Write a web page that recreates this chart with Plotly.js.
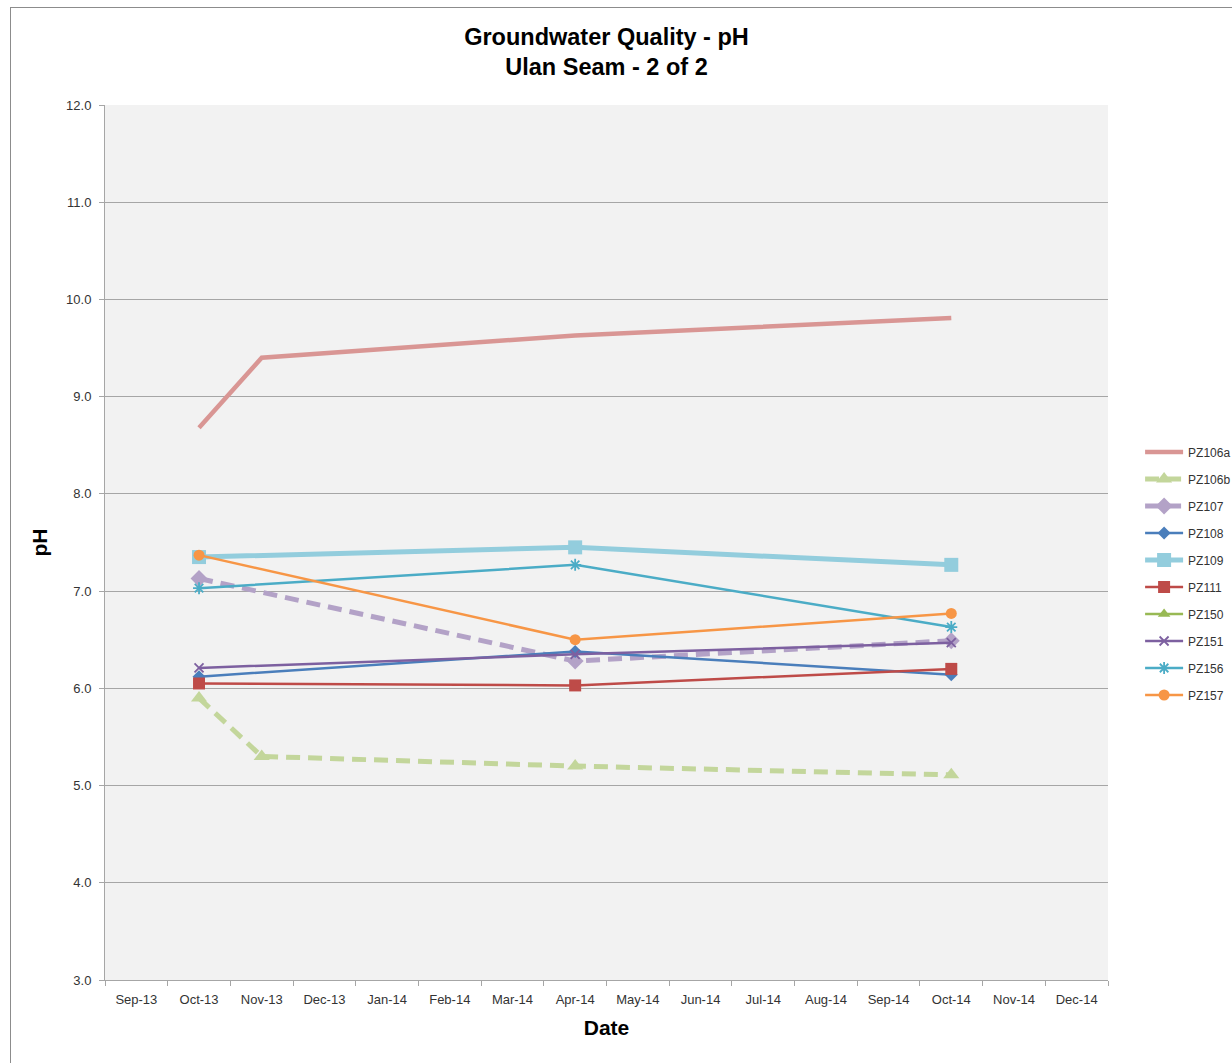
<!DOCTYPE html>
<html>
<head>
<meta charset="utf-8">
<script src="https://cdn.plot.ly/plotly-3.0.1.min.js"></script>
<style>
  html, body { margin: 0; padding: 0; background: #fff; overflow: hidden; }
  #frame { position: absolute; left: 10px; top: 7px; width: 1240px; height: 1080px; border: 1px solid #8c8c8c; box-sizing: border-box; pointer-events: none; z-index: 2; }
  #chart { position: absolute; left: 0; top: 0; width: 1232px; height: 1063px; }
</style>
</head>
<body>
<div id="chart"></div>
<div id="frame"></div>
<script>
// Category (month) labels on the x axis
const months = ["Sep-13","Oct-13","Nov-13","Dec-13","Jan-14","Feb-14","Mar-14","Apr-14","May-14","Jun-14","Jul-14","Aug-14","Sep-14","Oct-14","Nov-14","Dec-14"];

// Sampling dates
const dates4 = ["Oct-13","Nov-13","Apr-14","Oct-14"];
const dates3 = ["Oct-13","Apr-14","Oct-14"];

// pH values
const pz106a = [8.68, 9.40, 9.63, 9.81];
const pz106b = [5.90, 5.30, 5.20, 5.11];
const pz107  = [7.13, 6.28, 6.49];
const pz108  = [6.12, 6.38, 6.14];
const pz109  = [7.35, 7.45, 7.27];
const pz111  = [6.05, 6.03, 6.20];
const pz150  = [null, null, null];
const pz151  = [6.21, 6.35, 6.47];
const pz156  = [7.03, 7.27, 6.63];
const pz157  = [7.37, 6.50, 6.77];

function tr(name, x, y, color, width, dash, symbol, size, mline) {
  const t = {
    type: "scatter", name: name, x: x, y: y, legendgroup: name,
    mode: symbol ? "lines+markers" : "lines",
    line: { color: color, width: width, dash: dash || "solid" },
    connectgaps: true
  };
  if (symbol) {
    t.marker = { symbol: symbol, size: size, color: color, line: { color: color, width: mline || 0 } };
  }
  return t;
}

const traces = [
  tr("PZ106a", dates4, pz106a, "#D99694", 4.5, null, null),
  tr("PZ106b", dates4, pz106b, "#C3D69B", 5, "14px,8px", "triangle-up", 14),
  tr("PZ107",  dates3, pz107,  "#B3A2C7", 5, "14px,8px", "diamond", 13),
  tr("PZ108",  dates3, pz108,  "#4A7EBB", 2.5, null, "diamond", 10),
  tr("PZ109",  dates3, pz109,  "#93CDDD", 5, null, "square", 14),
  tr("PZ111",  dates3, pz111,  "#BE4B48", 2.5, null, "square", 12),
  tr("PZ150",  dates3, pz150,  "#98B954", 2.5, null, "triangle-up", 11),
  tr("PZ151",  dates3, pz151,  "#7D60A0", 2.5, null, "x-thin-open", 9, 1.8),
  tr("PZ156",  dates3, pz156,  "#4BACC6", 2.5, null, "asterisk-open", 10, 1.8),
  tr("PZ157",  dates3, pz157,  "#F79646", 2.5, null, "circle", 11)
];

const layout = {
  width: 1232, height: 1063,
  paper_bgcolor: "rgba(0,0,0,0)",
  plot_bgcolor: "#F2F2F2",
  margin: { l: 105, r: 124, t: 105, b: 83, pad: 0, autoexpand: false },
  font: { family: "Liberation Sans, Arial, sans-serif", size: 12, color: "#333333" },
  title: {
    text: "<b>Groundwater Quality - pH</b><br><b>Ulan Seam - 2 of 2</b>",
    font: { family: "Liberation Sans, Arial, sans-serif", size: 23.5, color: "#000000" },
    x: 0.5, xref: "paper", xanchor: "center",
    y: 0.958, yanchor: "top", yref: "container"
  },
  xaxis: {
    type: "category",
    categoryorder: "array", categoryarray: months,
    tickvals: months, ticktext: months,
    range: [-0.5, 15.5],
    tickson: "boundaries",
    ticks: "outside", ticklen: 5, tickcolor: "#A6A6A6",
    ticklabelstandoff: 7,
    showgrid: false, zeroline: false,
    showline: true, linecolor: "#A6A6A6", linewidth: 1,
    tickfont: { size: 13, color: "#333333" },
    title: { text: "<b>Date</b>", font: { size: 21, color: "#000000" }, standoff: 14 }
  },
  yaxis: {
    range: [3, 12], dtick: 1, tick0: 3, tickformat: ".1f",
    ticks: "outside", ticklen: 5, tickcolor: "#A6A6A6",
    ticklabelstandoff: 5,
    showgrid: true, gridcolor: "#A6A6A6", gridwidth: 1,
    zeroline: false,
    showline: true, linecolor: "#A6A6A6", linewidth: 1,
    tickfont: { size: 13, color: "#333333" },
    title: { text: "<b>pH</b>", font: { size: 21, color: "#000000" }, standoff: 12 }
  },
  showlegend: true,
  legend: {
    x: 1.032, xanchor: "left", y: 0.62, yanchor: "top",
    bgcolor: "rgba(0,0,0,0)",
    font: { size: 12, color: "#333333" },
    tracegroupgap: 8,
    itemwidth: 38
  }
};

Plotly.newPlot("chart", traces, layout, { displayModeBar: false, staticPlot: true });
</script>
</body>
</html>
